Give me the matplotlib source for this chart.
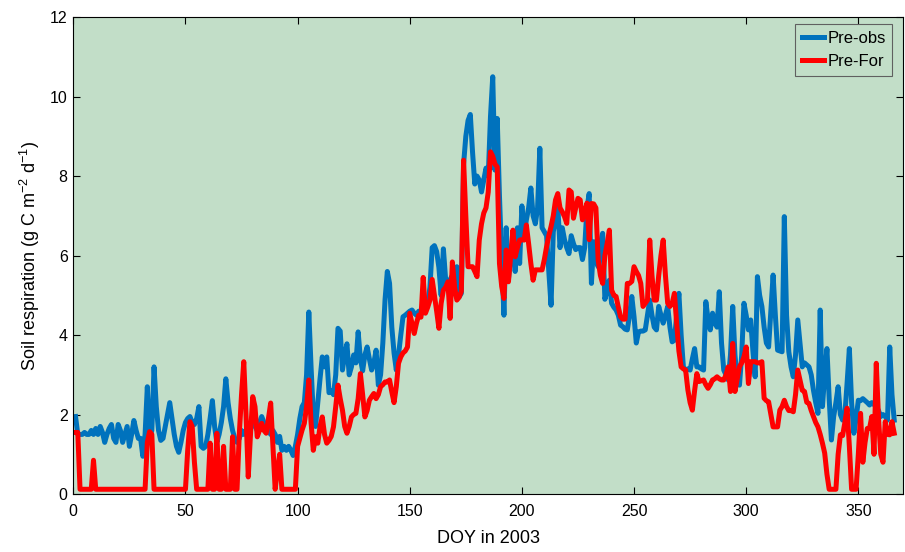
import numpy as np
import matplotlib
matplotlib.use('Agg')
import matplotlib.pyplot as plt

plt.rcParams['font.family'] = ['Liberation Sans', 'DejaVu Sans']
plt.rcParams['mathtext.fontset'] = 'custom'
plt.rcParams['mathtext.rm'] = 'Liberation Sans'
plt.rcParams['mathtext.it'] = 'Liberation Sans:italic'

# daily soil respiration, DOY 1..366
pre_obs = [
    1.95, 1.5, 1.5, 1.5, 1.55, 1.5, 1.5, 1.6, 1.5, 1.65,
    1.5, 1.7, 1.55, 1.3, 1.5, 1.65, 1.75, 1.4, 1.3, 1.75,
    1.6, 1.3, 1.5, 1.7, 1.2, 1.5, 1.85, 1.6, 1.4, 1.4,
    0.95, 1.5, 2.7, 1.4, 1.6, 3.2, 2.2, 1.6, 1.35, 1.4,
    1.7, 2.0, 2.3, 1.9, 1.5, 1.2, 1.05, 1.3, 1.6, 1.8,
    1.9, 1.95, 1.8, 1.75, 1.9, 2.2, 1.2, 1.15, 1.2, 1.5,
    1.9, 2.35, 1.7, 1.3, 1.5, 1.8, 2.2, 2.9, 2.3, 1.9,
    1.6, 1.4, 1.3, 1.4, 1.6, 1.5, 1.6, 1.7, 1.8, 1.85,
    1.7, 1.6, 1.8, 1.95, 1.8, 1.6, 1.6, 1.5, 1.6, 1.5,
    1.3, 1.45, 1.1, 1.2, 1.1, 1.2, 1.1, 0.97, 1.2, 1.5,
    1.9, 2.2, 2.3, 3.0, 4.58, 3.2, 2.0, 1.7, 2.3, 2.9,
    3.45, 3.2, 3.45, 2.55, 2.6, 2.5, 3.0, 4.17, 4.1, 3.12,
    3.5, 3.78, 3.0, 3.2, 3.5, 3.3, 4.08, 3.4, 3.1, 3.5,
    3.7, 3.4, 3.12, 3.3, 3.62, 2.74, 3.0, 3.8, 4.9, 5.6,
    5.3, 4.2, 3.55, 3.12, 3.5, 4.0, 4.46, 4.5, 4.55, 4.6,
    4.63, 4.55, 4.5, 4.6, 4.5, 4.7, 4.6, 4.8, 5.2, 6.2,
    6.25, 6.1, 5.7, 5.0, 6.17, 5.4, 5.2, 5.4, 5.5, 5.3,
    5.72, 4.96, 5.05, 8.3, 9.0, 9.4, 9.55, 8.6, 7.8, 8.0,
    7.9, 7.6, 7.9, 8.2, 8.0, 9.5, 10.5, 8.15, 9.45, 7.5,
    5.9, 4.5, 6.7, 5.4, 6.0, 6.4, 5.6, 6.7, 5.8, 7.25,
    6.5, 6.9, 7.2, 7.7, 7.0, 6.8, 7.2, 8.7, 6.7, 6.6,
    6.5, 5.6, 4.75, 6.6, 6.9, 7.25, 6.2, 6.7, 6.4, 6.2,
    6.05, 6.5, 6.3, 6.15, 6.2, 6.2, 5.9, 6.2, 7.2, 7.56,
    5.3, 6.35, 5.9, 5.72, 6.3, 6.56, 4.9, 5.13, 5.38, 4.8,
    4.7, 4.63, 4.5, 4.25, 4.21, 4.15, 4.13, 4.5, 4.97, 4.46,
    3.8, 4.08, 4.1, 4.1, 4.13, 4.5, 4.88, 4.5, 4.2, 4.13,
    4.72, 4.5, 4.3, 4.5, 4.72, 4.2, 3.83, 3.87, 4.5, 5.05,
    4.0, 3.2, 3.1, 3.15, 3.12, 3.4, 3.66, 3.2, 3.2, 3.15,
    3.12, 4.84, 4.4, 4.13, 4.55, 4.3, 4.2, 5.09, 3.8, 3.12,
    3.0, 2.87, 3.5, 4.72, 3.5, 2.87, 2.74, 3.5, 4.8, 4.5,
    4.13, 4.38, 3.6, 2.95, 5.47, 5.0, 4.72, 4.2, 3.8, 3.7,
    4.6, 5.51, 4.5, 3.62, 3.6, 3.58, 6.98, 4.5, 3.58, 3.2,
    2.95, 3.5, 4.38, 3.8, 3.2, 3.3, 3.25, 3.2, 3.0, 2.61,
    2.3, 2.03, 4.63, 2.2, 3.0, 3.66, 2.4, 1.36, 1.95, 2.3,
    2.7, 2.0, 1.86, 2.0, 2.8, 3.66, 2.3, 1.53, 1.9, 2.36,
    2.35, 2.4, 2.35, 2.3, 2.24, 2.3, 2.25, 2.2, 2.1, 1.95,
    2.0, 1.95, 1.86, 3.7, 2.5, 1.86,
]

pre_for = [
    1.55, 1.55, 0.12, 0.12, 0.12, 0.12, 0.12, 0.12, 0.85, 0.12,
    0.12, 0.12, 0.12, 0.12, 0.12, 0.12, 0.12, 0.12, 0.12, 0.12,
    0.12, 0.12, 0.12, 0.12, 0.12, 0.12, 0.12, 0.12, 0.12, 0.12,
    0.12, 0.12, 1.3, 1.57, 1.5, 0.12, 0.12, 0.12, 0.12, 0.12,
    0.12, 0.12, 0.12, 0.12, 0.12, 0.12, 0.12, 0.12, 0.12, 0.12,
    1.1, 1.82, 1.7, 0.8, 0.12, 0.12, 0.12, 0.12, 0.12, 0.12,
    1.28, 0.12, 0.12, 1.53, 0.12, 0.12, 1.2, 0.12, 0.12, 0.12,
    1.44, 0.12, 0.12, 1.5, 2.5, 3.33, 2.0, 0.43, 1.5, 2.45,
    2.2, 1.44, 1.6, 1.78, 1.6, 1.53, 1.9, 2.29, 1.2, 0.12,
    0.6, 1.0, 0.12, 0.12, 0.12, 0.12, 0.12, 0.12, 0.12, 1.2,
    1.4, 1.61, 1.78, 2.2, 2.87, 1.8, 1.1, 1.44, 1.28, 1.7,
    1.94, 1.5, 1.28, 1.35, 1.45, 1.69, 2.2, 2.74, 2.4, 2.11,
    1.7, 1.53, 1.7, 1.94, 2.0, 2.03, 2.4, 3.03, 2.5, 1.94,
    2.1, 2.36, 2.45, 2.53, 2.4, 2.5, 2.7, 2.75, 2.82, 2.82,
    2.87, 2.57, 2.3, 2.7, 3.29, 3.45, 3.55, 3.6, 3.7, 4.55,
    4.3, 4.04, 4.3, 4.5, 4.45, 5.45, 4.55, 4.7, 4.88, 5.4,
    5.0, 4.6, 4.17, 4.8, 5.13, 5.2, 5.34, 4.42, 5.84, 5.2,
    4.88, 4.95, 5.1, 8.4, 7.0, 5.72, 5.72, 5.72, 5.6, 5.47,
    6.39, 6.8, 7.07, 7.2, 7.6, 8.61, 8.5, 8.3, 8.23, 5.8,
    5.22, 4.92, 6.14, 5.34, 6.0, 6.64, 5.97, 6.2, 6.39, 6.4,
    6.39, 6.77, 6.3, 5.8, 5.38, 5.64, 5.64, 5.64, 5.64, 5.9,
    6.22, 6.5, 6.73, 7.0, 7.4, 7.56, 7.2, 7.1, 6.98, 6.81,
    7.65, 7.6, 6.94, 7.2, 7.44, 7.4, 6.9, 7.1, 7.32, 6.4,
    7.31, 7.3, 7.2, 5.89, 5.5, 5.3, 6.0, 6.3, 6.64, 5.13,
    5.0, 4.97, 4.7, 4.46, 4.4, 4.4, 5.3, 5.3, 5.35, 5.72,
    5.6, 5.5, 5.3, 4.72, 4.8, 4.88, 6.39, 5.5, 4.88, 4.88,
    5.5, 6.0, 6.39, 5.5, 4.8, 4.72, 4.8, 5.05, 4.3, 3.6,
    3.2, 3.15, 3.12, 2.62, 2.3, 2.11, 2.6, 3.03, 2.83, 2.85,
    2.87, 2.75, 2.66, 2.75, 2.87, 2.9, 2.95, 2.9, 2.87, 2.87,
    3.0, 3.2, 2.58, 3.79, 2.58, 2.9, 3.2, 3.3, 3.45, 3.7,
    2.78, 3.33, 3.33, 3.33, 3.3, 3.3, 3.33, 2.41, 2.35, 2.32,
    2.0, 1.69, 1.69, 1.69, 2.11, 2.2, 2.36, 2.2, 2.1, 2.1,
    2.07, 2.5, 3.12, 2.87, 2.61, 2.58, 2.31, 2.28, 2.1, 1.95,
    1.8, 1.69, 1.5, 1.28, 1.03, 0.5, 0.12, 0.12, 0.12, 0.12,
    1.0, 1.49, 1.47, 1.8, 2.16, 1.2, 0.12, 0.12, 0.12, 1.0,
    2.03, 0.8, 1.3, 1.65, 1.65, 1.95, 1.0, 3.29, 1.9, 1.0,
    0.8, 1.82, 1.5, 1.49, 1.82, 1.53,
]

doy = np.arange(1, len(pre_obs) + 1)

fig = plt.figure(figsize=(9.05, 5.52), dpi=100)
ax = fig.add_axes([0.081, 0.105, 0.917, 0.864])
ax.set_facecolor('#c2dec8')

ax.plot(doy, pre_obs, color='#0072bd', lw=3.6, label='Pre-obs',
        solid_joinstyle='round')
ax.plot(doy, pre_for, color='#ff0000', lw=3.6, label='Pre-For',
        solid_joinstyle='round')

ax.set_xlim(0, 370)
ax.set_ylim(0, 12)
ax.set_xticks(range(0, 351, 50))
ax.set_yticks(range(0, 13, 2))
ax.tick_params(direction='in', top=True, right=True, length=5,
               labelsize=11.5, width=0.8)
ax.tick_params(axis='x', pad=7)
ax.tick_params(axis='y', pad=4)
ax.set_xlabel('DOY in 2003', fontsize=13, labelpad=8)
ax.set_ylabel('Soil respiration (g C m$^{-2}$ d$^{-1}$)', fontsize=13,
              labelpad=6)

leg = ax.legend(loc='upper right', bbox_to_anchor=(0.987, 0.985),
                borderaxespad=0, fontsize=12, fancybox=False,
                handlelength=1.35, handletextpad=0.2,
                labelspacing=0.5, borderpad=0.4)
leg.get_frame().set_edgecolor('#606060')
leg.get_frame().set_facecolor('#c2dec8')
leg.get_frame().set_alpha(1)
leg.get_frame().set_linewidth(0.8)

fig.savefig('out.png', dpi=100)
